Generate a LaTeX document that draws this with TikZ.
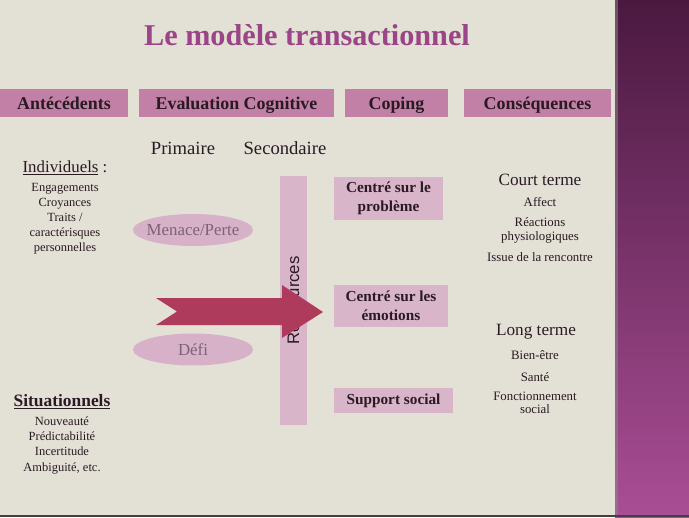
\documentclass[tikz,border=0pt]{standalone}
\usepackage{fontspec}
\setmainfont{Liberation Serif}
\setsansfont{Liberation Sans}
\usepackage{xcolor}
\usetikzlibrary{shapes.geometric, positioning}
\definecolor{bgcolor}{HTML}{E3E0D5}
\definecolor{titlecolor}{HTML}{9B4487}
\definecolor{hdrcolor}{HTML}{C280A6}
\definecolor{boxcolor}{HTML}{D9B5C9}
\definecolor{ellcolor}{HTML}{D7B1C7}
\definecolor{ellText}{HTML}{7E6276}
\definecolor{arrowcolor}{HTML}{AE3A5C}
\definecolor{inkcolor}{HTML}{2A1A24}
\definecolor{bandtop}{HTML}{4A1940}
\definecolor{bandbot}{HTML}{A94E95}

\begin{document}
\begin{tikzpicture}[
  x=0.02cm, y=-0.02cm,
  hdr/.style={fill=hdrcolor, inner sep=0pt, minimum height=0.56cm,
              text height=0.75em, text depth=0.05em,
              font=\fontsize{10.2}{12}\selectfont\bfseries, text=inkcolor},
  copebox/.style={fill=boxcolor, inner sep=0pt, align=center,
                  font=\fontsize{8.7}{10.8}\selectfont\bfseries, text=inkcolor},
  appraisal/.style={ellipse, fill=ellcolor, minimum width=2.4cm,
                    minimum height=0.64cm, inner sep=0pt,
                    font=\fontsize{9.6}{11}\selectfont, text=ellText},
  head/.style={font=\fontsize{9.8}{11}\selectfont, text=inkcolor, inner sep=0pt},
  sub/.style={font=\fontsize{10.6}{12}\selectfont, text=inkcolor, inner sep=0pt},
  items/.style={font=\fontsize{7.1}{8.6}\selectfont, text=inkcolor,
                align=center, inner sep=0pt},
]

%% Background and side band
\fill[bgcolor] (0,0) rectangle (689,517);
\shade[top color=bandtop, bottom color=bandbot] (615,0) rectangle (689,517);
\fill[black!45, opacity=0.5] (615,0) rectangle (618,517);
\fill[black!75] (0,515) rectangle (689,517);

%% Title
\node[font=\fontsize{17.2}{20}\selectfont\bfseries, text=titlecolor] (title)
  at (307,35) {Le modèle transactionnel};

%% Column headers
\node[hdr, minimum width=2.56cm] (antec) at (64,103) {Antécédents};
\node[hdr, minimum width=3.90cm] (evalc) at (236.5,103) {Evaluation Cognitive};
\node[hdr, minimum width=2.06cm] (coping) at (396.5,103) {Coping};
\node[hdr, minimum width=2.94cm] (conseq) at (537.5,103) {Conséquences};

%% Antecedents
\node[head, font=\fontsize{9.6}{11}\selectfont] (indiv) at (65,168) {\underline{Individuels} :};
\node[items, below=0.13cm of indiv] (indivlist)
  {Engagements\\Croyances\\Traits /\\caractérisques\\personnelles};
\node[head, font=\fontsize{9.9}{11}\selectfont\bfseries] (situ) at (62,402) {\underline{Situationnels}};
\node[items, below=0.13cm of situ] (situlist)
  {Nouveauté\\Prédictabilité\\Incertitude\\Ambiguité, etc.};

%% Evaluation
\node[sub] (prim) at (183,148) {Primaire};
\node[sub] (second) at (285,148) {Secondaire};
\node[appraisal] (menace) at (193,230) {\makebox[0pt]{Menace/Perte}};
\node[appraisal] (defi) at (193,349.5) {\makebox[0pt]{Défi}};
\node[fill=boxcolor, rotate=90, minimum width=4.98cm, minimum height=0.54cm,
      inner sep=0pt, font=\sffamily\fontsize{9.5}{11}\selectfont, text=inkcolor]
  (ress) at (293.5,300.5) {Ressources};

%% Big arrow
\fill[arrowcolor] (156,298) -- (282,298) -- (282,285) -- (323,312)
  -- (282,338) -- (282,325) -- (156,325) -- (177,311.5) -- cycle;

%% Coping
\node[copebox, minimum width=2.18cm, minimum height=0.86cm] (prob)
  at (388.5,198.5) {Centré sur le\\problème};
\node[copebox, minimum width=2.28cm, minimum height=0.86cm] (emot)
  at (391,306) {Centré sur les\\émotions};
\node[copebox, minimum width=2.38cm, minimum height=0.50cm] (social)
  at (393.5,400.5) {Support social};

%% Consequences
\node[head] (court) at (540,180) {Court terme};
\node[items, font=\fontsize{7.3}{7.5}\selectfont] (affect) at (540,202) {Affect};
\node[items, font=\fontsize{7.3}{7.5}\selectfont] (react) at (540,230.5) {Réactions\\physiologiques};
\node[items, font=\fontsize{7.3}{7.5}\selectfont] (issue) at (540,257) {Issue de la rencontre};
\node[head] (long) at (536,332) {Long terme};
\node[items, font=\fontsize{7.3}{7.5}\selectfont] (bien) at (535,355) {Bien-être};
\node[items, font=\fontsize{7.3}{7.5}\selectfont] (sante) at (535,377) {Santé};
\node[items, font=\fontsize{7.3}{7.5}\selectfont] (fonct) at (535,402.5) {Fonctionnement\\social};

\end{tikzpicture}
\end{document}
